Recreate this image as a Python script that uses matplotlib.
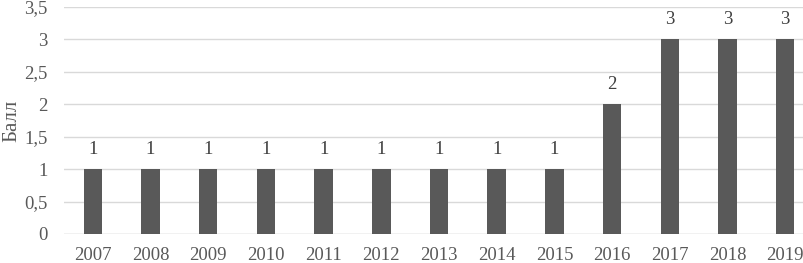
import matplotlib
matplotlib.use("Agg")
import matplotlib.pyplot as plt

years = ["2007", "2008", "2009", "2010", "2011", "2012", "2013", "2014", "2015", "2016", "2017", "2018", "2019"]
scores = [1, 1, 1, 1, 1, 1, 1, 1, 1, 2, 3, 3, 3]
yticks = [0, 0.5, 1, 1.5, 2, 2.5, 3, 3.5]
ytick_labels = ["0", "0,5", "1", "1,5", "2", "2,5", "3", "3,5"]

plt.rcParams['font.family'] = ['Liberation Serif', 'DejaVu Serif']

W, H = 804, 263
fig = plt.figure(figsize=(W / 100, H / 100), dpi=100)
left = 64 / W
right = 814 / W
bottom = 1 - 234 / H
top = 1 - 7 / H
ax = fig.add_axes([left, bottom, right - left, top - bottom])

x = list(range(len(years)))
bars = ax.bar(x, scores, width=0.32, color="#595959", zorder=3)
for xi, v in zip(x, scores):
    ax.text(xi, v + 0.17, str(v), ha="center", va="bottom", fontsize=13.5, color="#404040")

ax.set_xlim(-0.5, len(years) - 0.5)
ax.set_ylim(0, 3.5)
ax.set_yticks(yticks)
ax.set_yticklabels(ytick_labels)
ax.set_xticks(x)
ax.set_xticklabels(years)
ax.tick_params(axis="both", length=0, labelsize=13.5, colors="#595959")
ax.tick_params(axis="y", pad=12)
ax.tick_params(axis="x", pad=9)
ax.grid(axis="y", color="#d9d9d9", linewidth=1, zorder=0)
for s in ax.spines.values():
    s.set_visible(False)
ax.axhline(0, color="#d9d9d9", linewidth=1, zorder=1)
ax.set_ylabel("Балл", fontsize=15, color="#595959", labelpad=2)

fig.savefig("out.png", dpi=100)
